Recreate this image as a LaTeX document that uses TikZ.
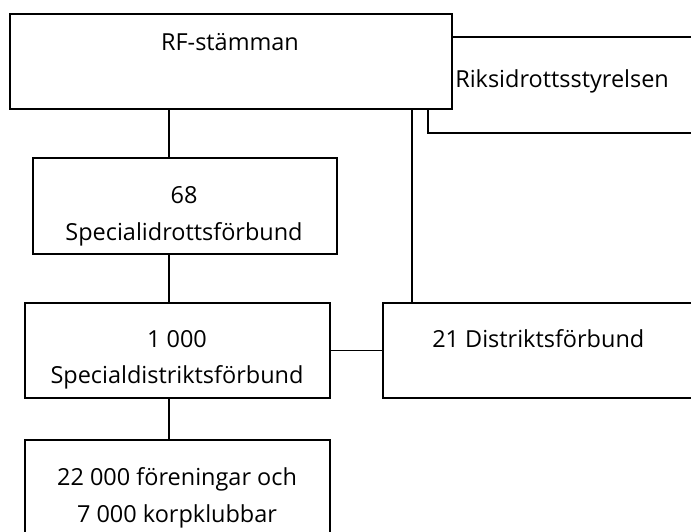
\documentclass[tikz,border=0pt]{standalone}
\usepackage{fontspec}
\setmainfont{Open Sans}
\begin{document}
\begin{tikzpicture}[x=0.75pt,y=-0.75pt,
    ruta/.style={draw, line width=1.3pt, fill=white, anchor=north west, inner sep=0pt},
    txt/.style={anchor=base, inner sep=0pt, font=\fontsize{17.6}{21}\selectfont},
    lnk/.style={line width=1.2pt}]
    \clip (0,0) rectangle (691,531);
    % rutorna
    \node[ruta, minimum width=273*0.75pt, minimum height=96*0.75pt] (riks) at (427,36) {};
    \node[ruta, minimum width=442*0.75pt, minimum height=95*0.75pt] (rf) at (9,13) {};
    \node[ruta, minimum width=304*0.75pt, minimum height=96*0.75pt] (sif) at (32,157) {};
    \node[ruta, minimum width=305*0.75pt, minimum height=95*0.75pt] (sdf) at (24,302) {};
    \node[ruta, minimum width=318*0.75pt, minimum height=95*0.75pt] (df) at (382,302) {};
    \node[ruta, minimum width=305*0.75pt, minimum height=110*0.75pt] (klubb) at (24,439) {};
    % texterna
    \node[txt] (rftxt) at (230,51) {RF-stämman};
    \node[txt, anchor=base west] (rikstxt) at (455,88) {Riksidrottsstyrelsen};
    \node[txt] (siftxt) at (184,203) {68};
    \node[txt] (siftxtb) at (184,240) {Specialidrottsförbund};
    \node[txt] (sdftxt) at (177,347) {1 000};
    \node[txt] (sdftxtb) at (177,383) {Specialdistriktsförbund};
    \node[txt, anchor=base west] (dftxt) at (432,347) {21 Distriktsförbund};
    \node[txt] (klubbtxt) at (177,485) {22 000 föreningar och};
    \node[txt] (klubbtxtb) at (177,522) {7 000 korpklubbar};
    % linjerna
    \coordinate (stam) at (169,0);
    \coordinate (gren) at (412,0);
    \draw[lnk] (rf.south -| stam) -- (sif.north -| stam);
    \draw[lnk] (sif.south -| stam) -- (sdf.north -| stam);
    \draw[lnk] (sdf.south -| stam) -- (klubb.north -| stam);
    \draw[lnk] (rf.south -| gren) -- (df.north -| gren);
    \draw[lnk] (sdf) -- (df);
\end{tikzpicture}
\end{document}
